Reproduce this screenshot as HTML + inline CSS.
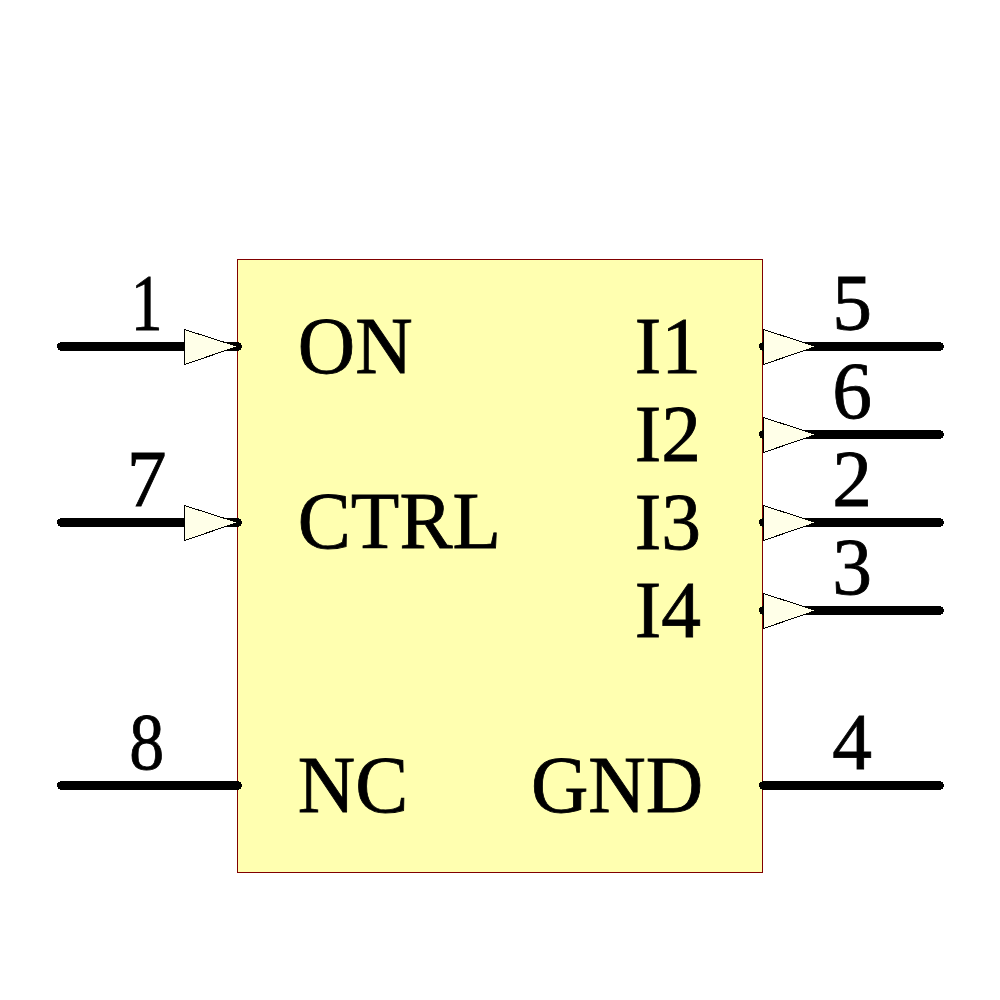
<!DOCTYPE html>
<html><head><meta charset="utf-8">
<style>
html,body{margin:0;padding:0;background:#fff;width:1000px;height:1000px;overflow:hidden}
svg{display:block}
text{font-family:"Liberation Serif",serif;font-size:79.5px;fill:#000;stroke:#000;stroke-width:0.8px}
</style></head>
<body>
<svg width="1000" height="1000" viewBox="0 0 1000 1000">
<rect x="237.5" y="259.5" width="525" height="613" fill="#FFFFB0" stroke="#800000" stroke-width="1"/>
<g stroke="#000" stroke-width="9" stroke-linecap="round" shape-rendering="crispEdges">
<line x1="61.5" y1="346.5" x2="237.5" y2="346.5"/>
<line x1="61.5" y1="522.5" x2="237.5" y2="522.5"/>
<line x1="61.5" y1="785.5" x2="237.5" y2="785.5"/>
<line x1="763.5" y1="346.5" x2="939.5" y2="346.5"/>
<line x1="763.5" y1="434.5" x2="939.5" y2="434.5"/>
<line x1="763.5" y1="522.5" x2="939.5" y2="522.5"/>
<line x1="763.5" y1="610.5" x2="939.5" y2="610.5"/>
<line x1="763.5" y1="785.5" x2="939.5" y2="785.5"/>
</g>
<g fill="#FFFFE8" stroke="#000" stroke-width="1" shape-rendering="crispEdges">
<polygon points="184.5,329.5 237.5,346.5 184.5,364.5"/>
<polygon points="184.5,505.5 237.5,522.5 184.5,540.5"/>
<polygon points="763.5,329.5 816,346.5 763.5,364.5"/>
<polygon points="763.5,417.5 816,434.5 763.5,452.5"/>
<polygon points="763.5,505.5 816,522.5 763.5,540.5"/>
<polygon points="763.5,593.5 816,610.5 763.5,628.5"/>
</g>
<text x="297.8" y="373">ON</text>
<text x="297.8" y="548.2">CTRL</text>
<text x="297.8" y="812">NC</text>
<text x="701" y="373.2" text-anchor="end">I1</text>
<text x="701" y="461.2" text-anchor="end">I2</text>
<text x="701" y="548.7" text-anchor="end">I3</text>
<text x="701" y="636.7" text-anchor="end">I4</text>
<text x="703.2" y="812" text-anchor="end">GND</text>
<text x="146.6" y="329.8" text-anchor="middle" transform="translate(147.3 0) scale(0.8 1) translate(-147.3 0)">1</text>
<text x="146.6" y="505.8" text-anchor="middle">7</text>
<text x="146.6" y="768.8" text-anchor="middle" transform="translate(147.6 0) scale(0.88 1) translate(-147.6 0)">8</text>
<text x="852.2" y="329.8" text-anchor="middle">5</text>
<text x="852.2" y="417.8" text-anchor="middle">6</text>
<text x="852.2" y="505.8" text-anchor="middle">2</text>
<text x="852.2" y="593.8" text-anchor="middle">3</text>
<text x="852.2" y="768.8" text-anchor="middle">4</text>
</svg>
</body></html>
